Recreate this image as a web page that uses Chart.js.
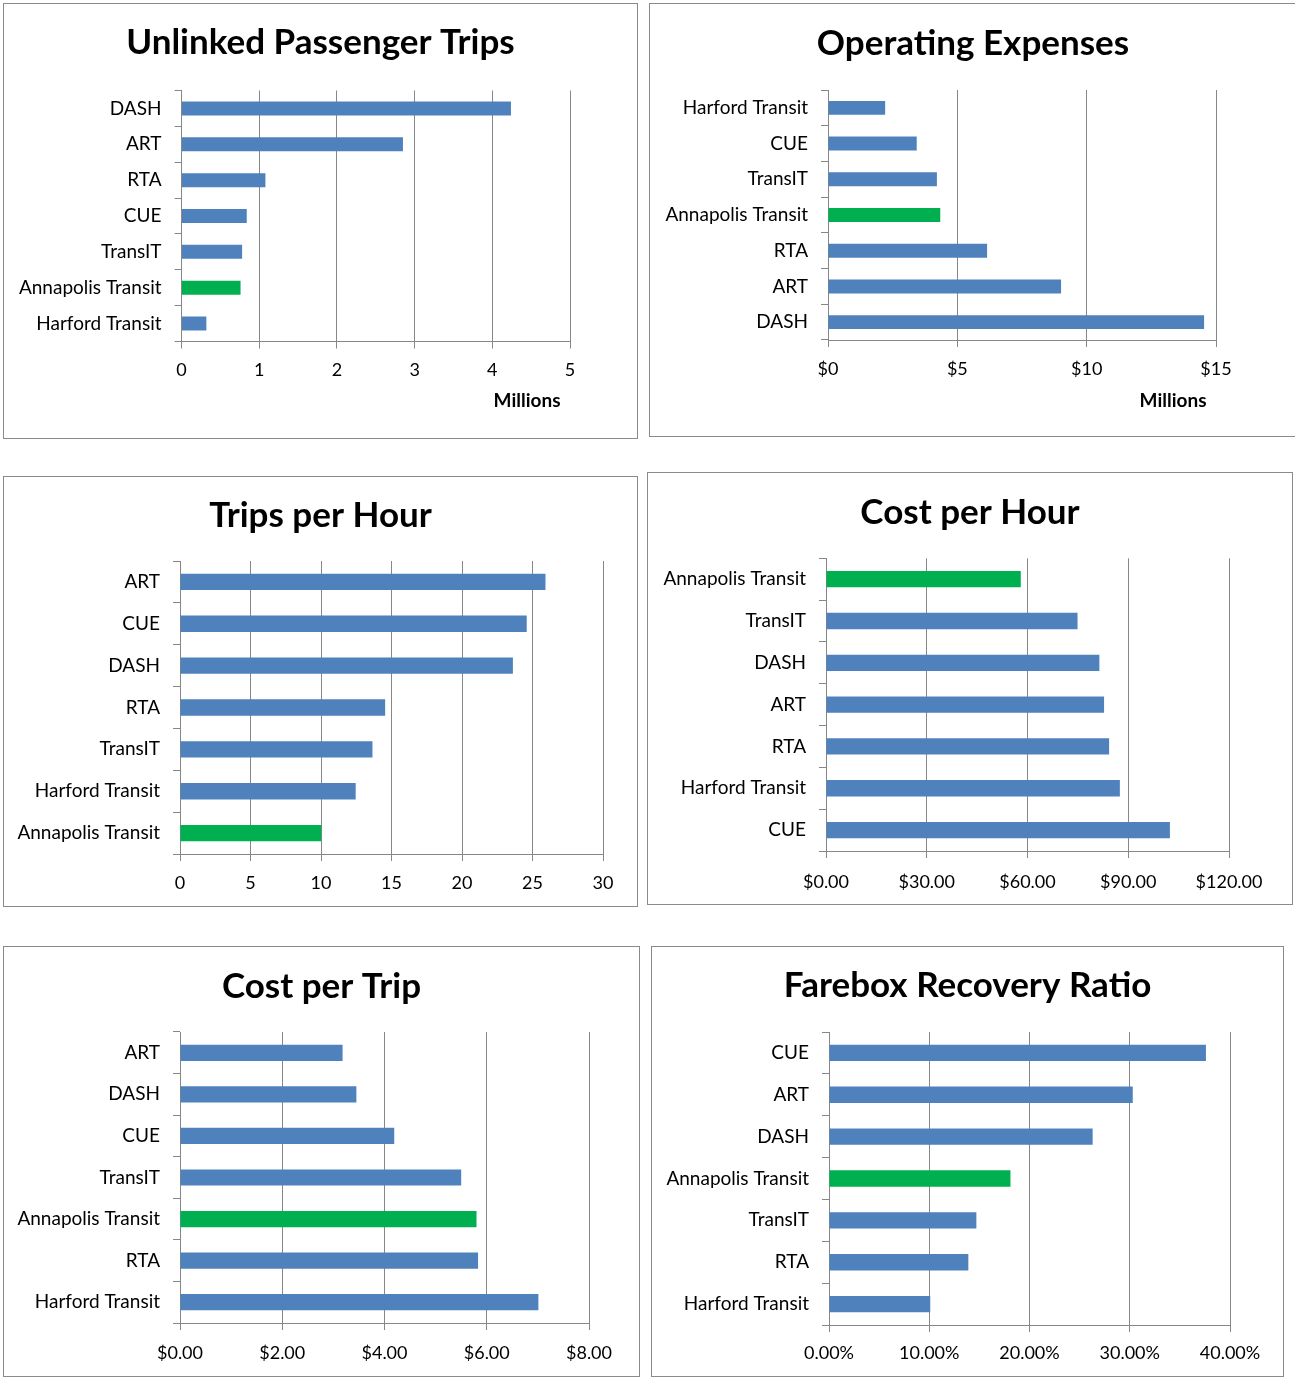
<!DOCTYPE html>
<html lang="en">
<head>
<meta charset="UTF-8">
<title>Transit peer comparison</title>
<script src="https://cdn.jsdelivr.net/npm/chart.js"></script>
<style>
    body {
        margin: 0;
        width: 1295px;
        height: 1378px;
        overflow: hidden;
        position: relative;
        background: #fff;
        font-family: Lato, sans-serif;
    }
    .panel {
        position: absolute;
        box-sizing: border-box;
        border: 1px solid #8a8a8a;
        background: #fff;
    }
    .panel canvas {
        position: absolute;
        left: 0;
        top: 0;
    }
</style>
</head>
<body>
<div class="panel" id="p1"><canvas id="c1"></canvas></div>
<div class="panel" id="p2"><canvas id="c2"></canvas></div>
<div class="panel" id="p3"><canvas id="c3"></canvas></div>
<div class="panel" id="p4"><canvas id="c4"></canvas></div>
<div class="panel" id="p5"><canvas id="c5"></canvas></div>
<div class="panel" id="p6"><canvas id="c6"></canvas></div>
<script>
// Unlinked passenger trips (millions)
var tripsLabels = ['DASH', 'ART', 'RTA', 'CUE', 'TransIT', 'Annapolis Transit', 'Harford Transit'];
var tripsValues = [4.24, 2.85, 1.08, 0.84, 0.78, 0.76, 0.32];
var tripsTicks = [0, 5, 1];

// Operating expenses (millions of $)
var expenseLabels = ['Harford Transit', 'CUE', 'TransIT', 'Annapolis Transit', 'RTA', 'ART', 'DASH'];
var expenseValues = [2.21, 3.43, 4.21, 4.34, 6.15, 9.01, 14.54];
var expenseTicks = [0, 15, 5];

// Trips per hour
var tphLabels = ['ART', 'CUE', 'DASH', 'RTA', 'TransIT', 'Harford Transit', 'Annapolis Transit'];
var tphValues = [25.92, 24.59, 23.61, 14.55, 13.65, 12.46, 10.02];
var tphTicks = [0, 30, 5];

// Cost per hour ($)
var cphLabels = ['Annapolis Transit', 'TransIT', 'DASH', 'ART', 'RTA', 'Harford Transit', 'CUE'];
var cphValues = [58.0, 74.9, 81.4, 82.8, 84.3, 87.5, 102.4];
var cphTicks = [0, 120, 30];

// Cost per trip ($)
var cptLabels = ['ART', 'DASH', 'CUE', 'TransIT', 'Annapolis Transit', 'RTA', 'Harford Transit'];
var cptValues = [3.18, 3.45, 4.19, 5.50, 5.80, 5.83, 7.01];
var cptTicks = [0, 8, 2];

// Farebox recovery ratio (%)
var frrLabels = ['CUE', 'ART', 'DASH', 'Annapolis Transit', 'TransIT', 'RTA', 'Harford Transit'];
var frrValues = [37.6, 30.3, 26.3, 18.1, 14.7, 13.9, 10.1];
var frrTicks = [0, 40, 10];

var BLUE = '#4f81bd';
var GREEN = '#00b050';
var GRID = '#878787';
var HIGHLIGHT = 'Annapolis Transit';

var TITLE_SIZE = 35;
var LABEL_SIZE = 19;
var TICK_SIZE = 18;
var TICK_LEN = 7;

function drawPanel(n, box, plot, pos, title, labels, values, range, fmt, unit) {
    var div = document.getElementById('p' + n);
    div.style.left = box[0] + 'px';
    div.style.top = box[1] + 'px';
    div.style.width = box[2] + 'px';
    div.style.height = box[3] + 'px';

    var ox = box[0] + 1, oy = box[1] + 1;
    var cw = box[2] - 2, ch = box[3] - 2;
    var canvas = document.getElementById('c' + n);
    canvas.width = cw;
    canvas.height = ch;

    // plot edges in canvas coordinates
    var L = plot[0] - ox, R = plot[1] - ox, T = plot[2] - oy, B = plot[3] - oy;
    var tlh = TITLE_SIZE * 1.2, klh = TICK_SIZE * 1.2, ulh = LABEL_SIZE * 1.2;
    var titleTop = pos[0] - oy - tlh / 2;
    var tickPad = pos[1] - oy - B - TICK_LEN - klh / 2 + 1;

    new Chart(canvas, {
        type: 'bar',
        data: {
            labels: labels,
            datasets: [{
                data: values,
                backgroundColor: labels.map(function(l) { return l === HIGHLIGHT ? GREEN : BLUE; }),
                barPercentage: 0.39,
                categoryPercentage: 1
            }]
        },
        options: {
            indexAxis: 'y',
            responsive: false,
            animation: false,
            layout: { padding: 0 },
            plugins: {
                legend: { display: false },
                tooltip: { enabled: false },
                title: {
                    display: true,
                    text: title,
                    color: '#000',
                    font: { family: 'Lato', size: TITLE_SIZE, weight: 'bold' },
                    padding: { top: titleTop, bottom: T - titleTop - tlh }
                }
            },
            scales: {
                x: {
                    min: range[0],
                    max: range[1],
                    ticks: {
                        stepSize: range[2],
                        color: '#000',
                        font: { family: 'Lato', size: TICK_SIZE },
                        padding: tickPad,
                        maxRotation: 0,
                        callback: fmt
                    },
                    grid: { color: GRID, tickLength: TICK_LEN },
                    border: { color: GRID },
                    title: unit ? {
                        display: true,
                        text: unit + '\u2002',
                        align: 'end',
                        color: '#000',
                        font: { family: 'Lato', size: LABEL_SIZE, weight: 'bold' },
                        padding: { top: 0, bottom: ch - (pos[2] - oy) - ulh / 2 }
                    } : { display: false },
                    afterFit: function(s) { s.height = ch - B; }
                },
                y: {
                    ticks: {
                        color: '#000',
                        font: { family: 'Lato', size: LABEL_SIZE },
                        padding: 13
                    },
                    grid: { drawOnChartArea: false, tickLength: TICK_LEN, color: GRID },
                    border: { color: GRID },
                    afterFit: function(s) { s.width = L; }
                },
                // empty right-hand strip so the plot ends where the original does
                spacer: {
                    type: 'linear',
                    position: 'right',
                    ticks: { display: false },
                    grid: { display: false },
                    border: { display: false },
                    afterFit: function(s) { s.width = cw - R; }
                }
            }
        }
    });
}

function plain(v) { return v; }
function dollars(v) { return '$' + v; }
function money(v) { return '$' + v.toFixed(2); }
function pct(v) { return v.toFixed(2) + '%'; }

drawPanel(1, [3, 3, 635, 436], [181.5, 570, 90.5, 341.5], [42.5, 369.3, 400.5],
    'Unlinked Passenger Trips', tripsLabels, tripsValues, tripsTicks, plain, 'Millions');
drawPanel(2, [649, 3, 648, 434], [828, 1216, 90, 340], [44.2, 368, 400.5],
    'Operating Expenses', expenseLabels, expenseValues, expenseTicks, dollars, 'Millions');
drawPanel(3, [3, 476, 635, 431], [180, 603, 561, 854], [515.8, 882, 0],
    'Trips per Hour', tphLabels, tphValues, tphTicks, plain, null);
drawPanel(4, [647, 472, 646, 433], [826, 1229, 558.3, 851], [512.5, 880.8, 0],
    'Cost per Hour', cphLabels, cphValues, cphTicks, money, null);
drawPanel(5, [3, 946, 637, 431], [180, 589, 1032, 1323], [986.7, 1352, 0],
    'Cost per Trip', cptLabels, cptValues, cptTicks, money, null);
drawPanel(6, [651, 946, 633, 431], [829, 1230, 1032, 1325], [985.8, 1352.6, 0],
    'Farebox Recovery Ratio', frrLabels, frrValues, frrTicks, pct, null);
</script>
</body>
</html>
